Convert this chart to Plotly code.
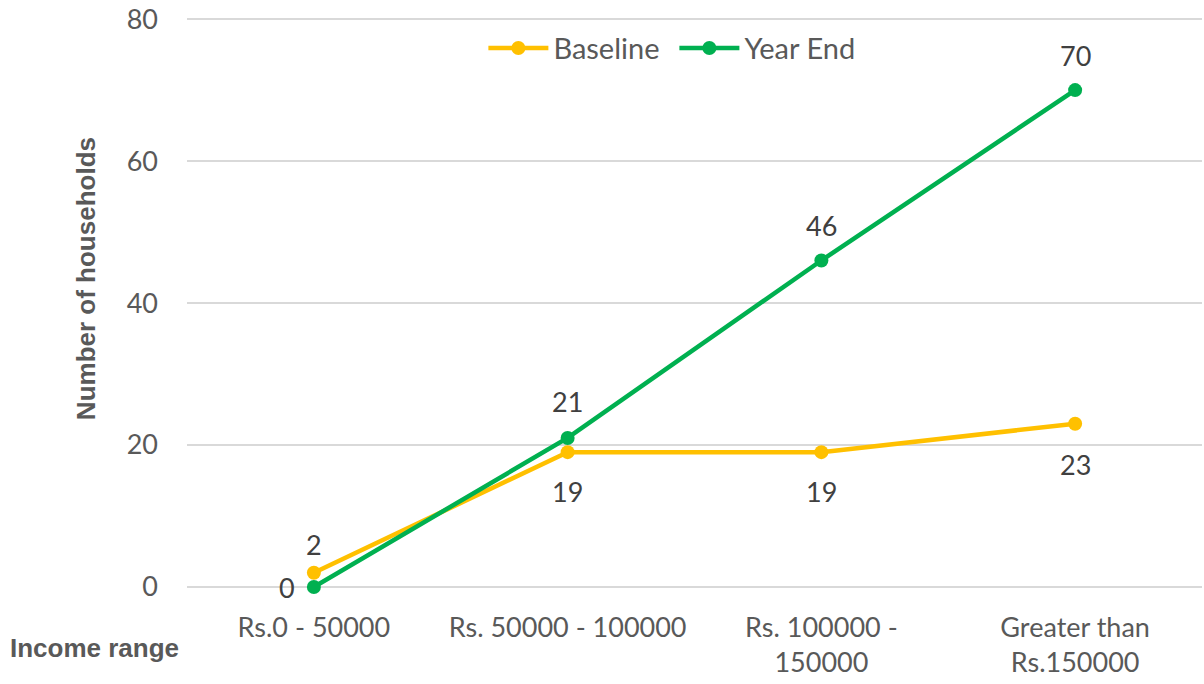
import plotly.graph_objects as go

categories = ["Rs.0 - 50000", "Rs. 50000 - 100000", "Rs. 100000 -<br>150000", "Greater than<br>Rs.150000"]
baseline = [2, 19, 19, 23]
year_end = [0, 21, 46, 70]
y_ticks = [0, 20, 40, 60, 80]
# label offsets (px) relative to each point: (xshift, yshift)
baseline_shift = [(0, 28), (0, -39), (0, -39), (0, -41)]
year_end_shift = [(-27, 0), (0, 36), (0, 35), (0, 35)]

FONT = "Lato, 'Open Sans', sans-serif"
BOLD_FONT = "'Liberation Sans', Arial, sans-serif"
GREY = "#595959"
LABEL = "#404040"

fig = go.Figure()
fig.add_trace(go.Scatter(
    x=categories, y=baseline, name="Baseline", mode="lines+markers",
    line=dict(color="#FFC000", width=4.5), marker=dict(size=14, color="#FFC000"),
    cliponaxis=False,
))
fig.add_trace(go.Scatter(
    x=categories, y=year_end, name="Year End", mode="lines+markers",
    line=dict(color="#00B050", width=4.5), marker=dict(size=14, color="#00B050"),
    cliponaxis=False,
))

for values, shifts in ((baseline, baseline_shift), (year_end, year_end_shift)):
    for cat, v, (dx, dy) in zip(categories, values, shifts):
        fig.add_annotation(x=cat, y=v, text=str(v), showarrow=False,
                           xshift=dx, yshift=dy, xanchor="center", yanchor="middle",
                           font=dict(size=27, color=LABEL, family=FONT))

fig.update_layout(
    width=1204, height=684,
    margin=dict(l=187, r=2, t=13, b=97),
    plot_bgcolor="white", paper_bgcolor="white",
    font=dict(family=FONT, size=27, color=GREY),
    showlegend=True,
    legend=dict(orientation="h", x=0.292, y=0.99, xanchor="left", yanchor="top",
                font=dict(size=29, color=GREY, family=FONT), bgcolor="rgba(0,0,0,0)",
                itemwidth=60, entrywidth=116, entrywidthmode="pixels", tracegroupgap=0),
)
fig.update_xaxes(
    type="category", range=[-0.5, 3.5], showgrid=False, showline=False,
    ticks="", tickfont=dict(size=27, color=GREY, family=FONT), zeroline=False,
    ticklabelstandoff=22,
)
fig.update_yaxes(
    range=[0, 80.3], tickvals=y_ticks, showgrid=True, gridcolor="#D9D9D9", gridwidth=1.5,
    zeroline=True, zerolinecolor="#D9D9D9", zerolinewidth=1.5, showline=False,
    ticks="", ticklabelstandoff=28, ticklabeloverflow="allow",
    tickfont=dict(size=27, color=GREY, family=FONT),
)
fig.add_annotation(text="<b>Number of households</b>", textangle=-90, xref="paper", yref="paper",
                   x=-0.100, y=0.541, xanchor="center", yanchor="middle", showarrow=False,
                   font=dict(size=26, color=GREY, family=BOLD_FONT))
fig.add_annotation(text="<b>Income range</b>", xref="paper", yref="paper",
                   x=-0.1764, y=-0.107, xanchor="left", yanchor="middle", showarrow=False,
                   font=dict(size=26, color=GREY, family=BOLD_FONT))

fig.write_html("out.html")
